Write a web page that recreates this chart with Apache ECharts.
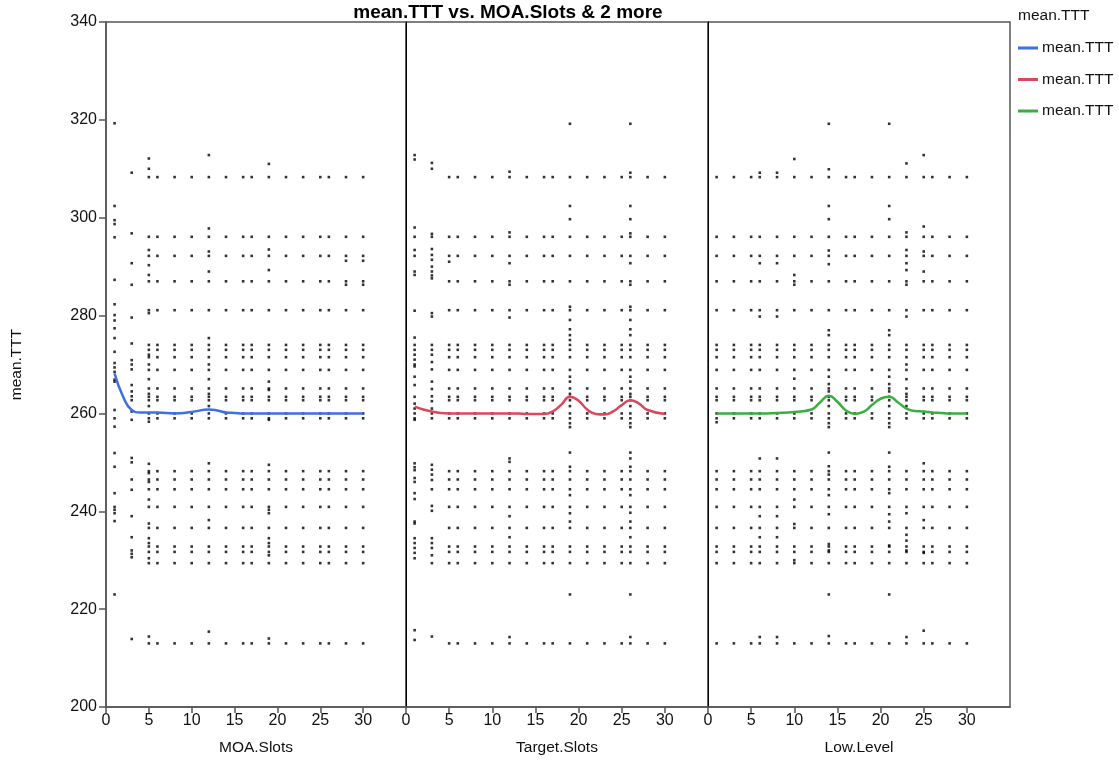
<!DOCTYPE html>
<html lang="en">
<head>
    <meta charset="UTF-8">
    <title>mean.TTT vs. MOA.Slots & 2 more</title>
    <style>
        html, body {
            margin: 0;
            padding: 0;
            background: #fff;
        }

        #chart {
            width: 1119px;
            height: 761px;
        }
    </style>
</head>
<body>
<div id="chart"></div>
<script src="https://cdn.jsdelivr.net/npm/echarts@6/dist/echarts.min.js"></script>
<script type="text/javascript">
    // x positions shared by all three panels
    var xValues = [1, 3, 5, 6, 8, 10, 12, 14, 16, 17, 19, 21, 23, 25, 26, 28, 30];
    // y levels that show up in nearly every column
    var baseLevels = [213, 229.4, 231.7, 232.8, 236.6, 240.9, 244.5, 246.5, 248.2, 259, 260,
        262.7, 263.4, 265.1, 268.9, 271.5, 273, 274, 281.1, 287, 292.2, 296.1, 308.3];
    var xTicks = [0, 5, 10, 15, 20, 25, 30];
    var panelNames = ['MOA.Slots', 'Target.Slots', 'Low.Level'];

    // columns that do not follow the base levels
    var irregularMoa = [1, 3];
    var irregularTarget = [1, 3];
    var irregularLow = [];

    // extra points per column: [x, [y...]]
    var extrasMoa = [
        [1, [319.3, 302.4, 299.5, 298.7, 296, 287.3, 282.3, 280.1, 279, 277.4, 275.4, 272.6, 270.3, 269.4, 268.5,
            266.9, 266.5, 260.7, 259, 257.3, 251.9, 249.1, 243.7, 240.9, 240.3, 239.6, 238.0, 223.0]],
        [3, [309.2, 296.8, 290.7, 286.3, 279.6, 274.3, 270.9, 270, 269, 265.8, 264.5, 263.5, 262.7, 260.4, 258.7,
            250.9, 250, 246.5, 244.4, 239.0, 234.7, 232, 231.3, 230.6, 213.9]],
        [5, [312.1, 310, 293.4, 290.3, 288.3, 280.5, 272, 270, 267, 264, 261.5, 258.3, 249.7, 247.8, 246.0,
            242.4, 237.5, 234.5, 233.5, 230.4, 214.4]],
        [12, [312.8, 297.8, 293.1, 289.0, 275.4, 270, 267, 264, 261.5, 249.8, 238.2, 215.4]],
        [19, [311, 293.5, 289.3, 266.5, 264.8, 258.7, 249.5, 240.3, 239.6, 234.5, 233.5, 231, 214]],
        [28, [291.2, 286.3]],
        [30, [291.2, 286.3]]
    ];
    var extrasTarget = [
        [1, [312.8, 311.9, 298.0, 296.1, 293.4, 292.2, 289.0, 288.3, 281.0, 275.5, 274, 273, 272, 271, 270, 269.6,
            267.5, 265.8, 263.4, 262, 261, 260, 259, 258.7, 249.8, 249, 248.4, 246.8, 246.0, 243.7, 242.5, 237.9,
            237.5, 234.5, 233.5, 232.5, 231.5, 230.4, 215.7, 213.7]],
        [3, [311.2, 310, 296.7, 296.1, 293.6, 292.4, 291.4, 290, 289, 288.2, 287.6, 280.5, 279.8, 274, 273, 272,
            270.5, 269, 266.5, 265, 263.5, 262.5, 261, 260, 259, 249.5, 248.5, 247.5, 246.4, 244.5, 241.1, 240.1,
            234.5, 233.5, 232.5, 231, 229.4, 214.4]],
        [5, [291]],
        [12, [309.4, 297, 290.7, 286.3, 279.6, 250.8, 250.1, 239.0, 234.7, 214.3]],
        [19, [319.2, 302.4, 299.7, 281.8, 279.1, 277.2, 276, 275, 267.5, 266.5, 264, 261.5, 258, 257.2, 252.0,
            249.1, 243.3, 239.6, 237.9, 223.0]],
        [26, [319.2, 309.2, 302.4, 299.7, 296.8, 290.7, 286.3, 281.8, 279.1, 277.2, 276, 267.5, 266.5, 264, 261.5,
            258, 257.2, 252.0, 250.8, 249.1, 243.3, 239.7, 237.9, 234.7, 223.0, 214.3]]
    ];
    var extrasLow = [
        [1, [258.2]],
        [6, [309.2, 290.7, 279.8, 250.8, 239.0, 234.7, 214.3]],
        [8, [309.2, 290.7, 279.8, 250.8, 239.0, 234.7, 214.3]],
        [10, [312, 288.3, 286.3, 267.1, 242.4, 237.4, 230]],
        [14, [319.2, 309.9, 302.4, 299.7, 293.3, 290.5, 277, 276, 267.5, 266, 264.5, 261.5, 258, 257.2, 252.0,
            249.2, 247.5, 243.3, 239.4, 233.3, 232, 223.0, 214.5]],
        [21, [319.2, 302.4, 299.7, 277, 276, 267.5, 266, 264.5, 261.5, 258, 257.2, 252.0, 249.1, 243.7, 239.4,
            237.9, 233, 223.0]],
        [23, [311.1, 297, 293.4, 290.7, 289.3, 286.3, 279.8, 270, 267, 264, 261.5, 239.6, 235.2, 234, 232, 214.3]],
        [25, [312.8, 298.2, 293.1, 289.0, 249.8, 238.2, 231.5, 215.6]]
    ];

    // smoothed mean curves
    var smoothX = [1, 2, 3, 4, 5, 6, 8, 10, 12, 13, 14, 15, 16, 17, 18, 19, 20, 21, 22, 23, 24, 25, 26, 27, 28, 30];
    var smoothMoa = [268.2, 263.4, 260.7, 260.2, 260.2, 260.2, 260.0, 260.3, 260.8, 260.6, 260.2, 260.1, 260.0,
        260.0, 260.0, 260.0, 260.0, 260.0, 260.0, 260.0, 260.0, 260.0, 260.0, 260.0, 260.0, 260.0];
    var smoothTarget = [261.4, 260.8, 260.4, 260.1, 260.0, 260.0, 260.0, 260.0, 260.0, 260.0, 259.9, 259.9, 259.9,
        260.4, 261.8, 263.4, 262.6, 260.8, 259.9, 259.8, 260.4, 261.7, 262.7, 262.0, 260.7, 259.9];
    var smoothLow = [260.0, 260.0, 260.0, 260.0, 260.0, 260.0, 260.1, 260.3, 260.8, 262.3, 263.6, 262.4, 260.6,
        259.9, 260.3, 261.7, 263.0, 263.4, 262.3, 261.0, 260.5, 260.4, 260.2, 260.1, 260.0, 260.0];

    var lineColors = ['#3f6fe0', '#d9485c', '#3aae3f'];
    var font = '"Liberation Sans", Arial, sans-serif';

    function scatterData(irregular, extras) {
        var out = [];
        xValues.forEach(function (x) {
            if (irregular.indexOf(x) < 0) {
                baseLevels.forEach(function (y) {
                    out.push([x, y]);
                });
            }
        });
        extras.forEach(function (col) {
            col[1].forEach(function (y) {
                out.push([col[0], y]);
            });
        });
        return out;
    }

    function lineData(ys) {
        return smoothX.map(function (x, i) {
            return [x, ys[i]];
        });
    }

    var chart = echarts.init(document.getElementById('chart'));

    var grids = [
        {left: 106, top: 22, width: 300, height: 685},
        {left: 406, top: 22, width: 302, height: 685},
        {left: 708, top: 22, width: 302, height: 685}
    ];
    grids.forEach(function (g) {
        g.show = true;
        g.borderColor = '#555';
        g.borderWidth = 1.5;
        g.containLabel = false;
    });

    var xAxes = panelNames.map(function (name, i) {
        return {
            type: 'value',
            gridIndex: i,
            min: 0,
            max: 35,
            name: name,
            nameLocation: 'middle',
            nameGap: 33,
            nameTextStyle: {fontFamily: font, fontSize: 15.5, color: '#111'},
            splitLine: {show: false},
            axisLine: {show: true, onZero: false, lineStyle: {color: '#555', width: 1.5}},
            axisTick: {show: true, length: 6, customValues: xTicks, lineStyle: {color: '#555', width: 1.5}},
            axisLabel: {customValues: xTicks, margin: 6, fontFamily: font, fontSize: 16, color: '#111'}
        };
    });

    var yAxes = [0, 1, 2].map(function (i) {
        return {
            type: 'value',
            gridIndex: i,
            min: 200,
            max: 340,
            interval: 20,
            name: i === 0 ? 'mean.TTT' : '',
            nameLocation: 'middle',
            nameGap: 81,
            nameTextStyle: {fontFamily: font, fontSize: 15.5, color: '#111'},
            splitLine: {show: false},
            axisLine: {show: true, lineStyle: {color: i === 0 ? '#555' : '#000', width: i === 0 ? 1.5 : 1}},
            axisTick: {show: i === 0, length: 7, lineStyle: {color: '#555', width: 1.5}},
            axisLabel: {show: i === 0, margin: 9, fontFamily: font, fontSize: 16, color: '#111'}
        };
    });

    var scatterSets = [
        scatterData(irregularMoa, extrasMoa),
        scatterData(irregularTarget, extrasTarget),
        scatterData(irregularLow, extrasLow)
    ];
    var smoothSets = [smoothMoa, smoothTarget, smoothLow];
    var series = [];
    scatterSets.forEach(function (d, i) {
        series.push({
            type: 'scatter',
            name: 'points' + i,
            xAxisIndex: i,
            yAxisIndex: i,
            symbol: 'rect',
            symbolSize: [2.6, 2.6],
            itemStyle: {color: '#000'},
            data: d,
            silent: true
        });
    });
    smoothSets.forEach(function (ys, i) {
        series.push({
            type: 'line',
            name: 'smooth' + i,
            xAxisIndex: i,
            yAxisIndex: i,
            smooth: 0.5,
            symbol: 'none',
            lineStyle: {color: lineColors[i], width: 2.5},
            itemStyle: {color: lineColors[i]},
            data: lineData(ys),
            z: 5
        });
    });

    chart.setOption({
        animation: false,
        title: {
            text: 'mean.TTT vs. MOA.Slots & 2 more',
            left: 508,
            top: 3,
            padding: 0,
            textAlign: 'center',
            textStyle: {fontFamily: font, fontSize: 19, fontWeight: 'bold', color: '#000'}
        },
        legend: {
            orient: 'vertical',
            left: 1018,
            top: 40,
            padding: 0,
            itemWidth: 20,
            itemHeight: 3,
            itemGap: 15.5,
            icon: 'rect',
            data: ['smooth0', 'smooth1', 'smooth2'],
            formatter: function () {
                return 'mean.TTT';
            },
            textStyle: {fontFamily: font, fontSize: 15.5, color: '#111', padding: [0, 0, 0, -1]}
        },
        graphic: [{
            type: 'text',
            left: 1018,
            top: 8,
            style: {text: 'mean.TTT', font: '15.5px ' + font, fill: '#111'}
        }],
        grid: grids,
        xAxis: xAxes,
        yAxis: yAxes,
        series: series
    });
</script>
</body>
</html>
